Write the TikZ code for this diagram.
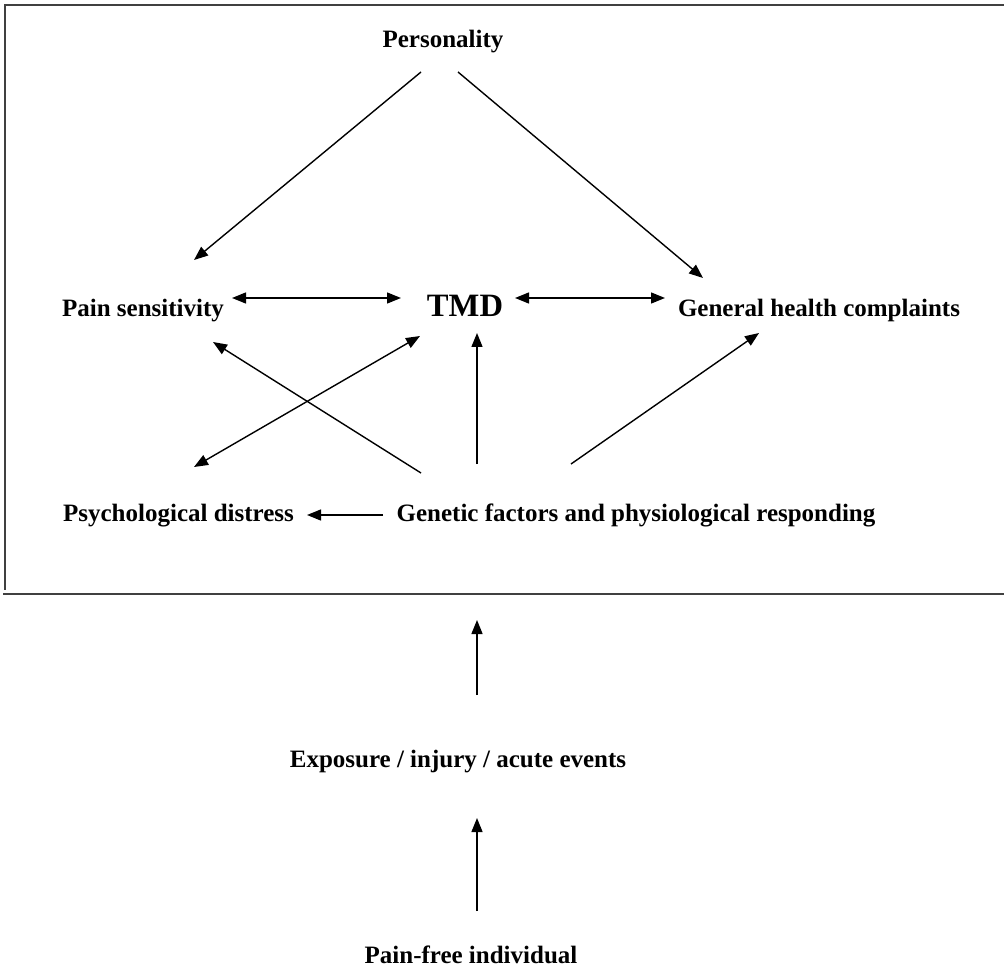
\documentclass[tikz,border=0pt]{standalone}
\usepackage{fontspec}
\setmainfont{Liberation Serif}
\usetikzlibrary{arrows.meta}
\tikzset{
  lbl/.style={
    anchor=base,
    inner sep=0pt,
    font=\fontsize{12.5}{15}\selectfont\bfseries},
  big/.style={
    lbl,
    font=\fontsize{16.3}{19}\selectfont\bfseries},
  fig/.style={
    >={Triangle[length=7pt,width=5.5pt]},
    line width=0.7pt},
  frame/.style={
    line width=0.9pt,
    black!75}
  }
\begin{document}
\begin{tikzpicture}[x=0.5pt,y=-0.5pt]
    \useasboundingbox (0,0) rectangle (1004,972);
    \node[lbl] (pers) at (443,48) {Personality};
    \node[lbl] (pain) at (143,317) {Pain sensitivity};
    \node[big] (tmd) at (465,317) {TMD};
    \node[lbl] (ghc) at (819,317) {General health complaints};
    \node[lbl] (psych) at (178.5,521) {Psychological distress};
    \node[lbl] (gen) at (636,521) {Genetic factors and physiological responding};
    \node[lbl] (expo) at (458,767) {Exposure / injury / acute events};
    \node[lbl] (free) at (471,963) {Pain-free individual};
    \draw [frame] (1004,5) -- (5,5) -- (5,590);
    \draw [frame] (3,594) -- (1004,594);
    \coordinate (boxbot) at (477,620);
    \draw [fig]
      ([shift={(-22,24)}]pers.base) edge[->] ([shift={(51,-57)}]pain.base)
      ([shift={(15,24)}]pers.base) edge[->] ([shift={(-116,-39)}]ghc.base)
      ([shift={(89,-19)}]pain.base) edge[<->] ([shift={(-64,-19)}]tmd.base)
      ([shift={(50,-19)}]tmd.base) edge[<->] ([shift={(-154,-19)}]ghc.base)
      ([shift={(-215,-48)}]gen.base) edge[->] ([shift={(70,25)}]pain.base)
      ([shift={(15.5,-54)}]psych.base) edge[<->] ([shift={(-45,19)}]tmd.base)
      ([shift={(-159,-57)}]gen.base) edge[->] ([shift={(12,16)}]tmd.base)
      ([shift={(-65,-57)}]gen.base) edge[->] ([shift={(-60,16)}]ghc.base)
      ([shift={(-253,-6)}]gen.base) edge[->] ([shift={(128.5,-6)}]psych.base)
      ([shift={(19,-72)}]expo.base) edge[->] (boxbot)
      ([shift={(6,-52)}]free.base) edge[->] ([shift={(19,51)}]expo.base);
\end{tikzpicture}
\end{document}
